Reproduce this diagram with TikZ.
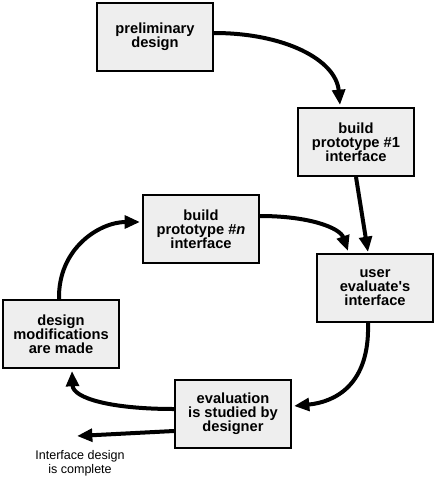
\documentclass[tikz,border=0pt]{standalone}
\usepackage{fontspec}
\setmainfont{Liberation Sans}
\usetikzlibrary{arrows.meta,calc}
\definecolor{boxfill}{HTML}{EEEEEE}
\tikzset{
  stage/.style={draw=black, fill=boxfill, line width=1.5pt, minimum width=87pt, minimum height=51pt,
    align=center, inner sep=0pt, font=\fontsize{11}{10.5}\selectfont\bfseries},
  flow/.style={line width=3pt, -{Triangle[length=11.5pt,width=9.5pt]}},
  note/.style={align=center, font=\fontsize{9.4}{10.2}\selectfont}
}
\begin{document}
\begin{tikzpicture}[x=0.75pt,y=-0.75pt]
\useasboundingbox (0,0) rectangle (435,479);
\node[stage] (pd) at (155,37) {preliminary\\design};
\node[stage] (b1) at (356,142) {build\\prototype \#1\\interface};
\node[stage] (bn) at (201,229) {build\\prototype \#\textit{n}\\interface};
\node[stage] (ue) at (375,288) {user\\evaluate\textquotesingle s\\interface};
\node[stage] (dm) at (61,334) {design\\modifications\\are made};
\node[stage] (ev) at (233,414) {evaluation\\is studied by\\designer};
\coordinate (done) at (77,436);
\node[note] (lbl) at (80,463) {Interface design\\is complete};

\draw[flow] ($(pd.east)+(0,-4)$) .. controls (285,33) and (336,60) .. ($(b1.north)+(-16,-2)$);
\draw[flow] (b1.south) -- ($(ue.north)+(-7,-1)$);
\draw[flow] ($(bn.east)+(0,-13)$) .. controls (310,216) and (340,228) .. ($(ue.north)+(-27,-2)$);
\draw[flow] ($(ue.south)+(-7,0)$) .. controls (370,385) and (335,402) .. ($(ev.east)+(2,-8)$);
\draw[flow] ($(ev.west)+(0,-5)$) .. controls (110,409) and (73,398) .. ($(dm.south)+(11,2)$);
\draw[flow] ($(dm.north)+(-2,0)$) .. controls (58,248) and (100,222) .. ($(bn.west)+(-2,-7)$);
\draw[flow] ($(ev.west)+(0,17)$) -- (done);
\end{tikzpicture}
\end{document}
